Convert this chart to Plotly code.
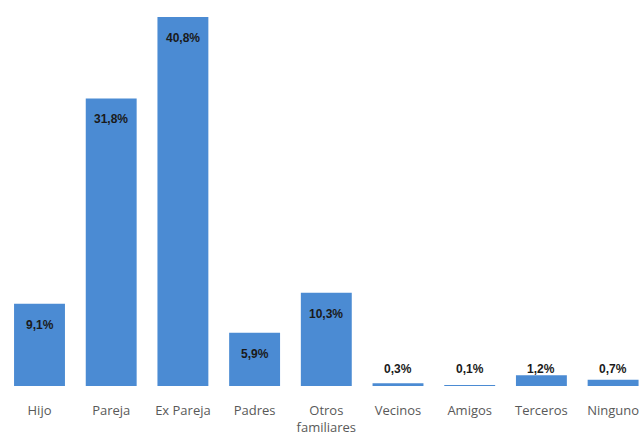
import plotly.graph_objects as go

categories = ["Hijo", "Pareja", "Ex Pareja", "Padres", "Otros<br>familiares",
              "Vecinos", "Amigos", "Terceros", "Ninguno"]
values = [9.1, 31.8, 40.8, 5.9, 10.3, 0.3, 0.1, 1.2, 0.7]
labels = ["9,1%", "31,8%", "40,8%", "5,9%", "10,3%", "0,3%", "0,1%", "1,2%", "0,7%"]

fig = go.Figure()
fig.add_trace(go.Bar(
    x=list(range(len(categories))), y=values,
    marker=dict(color="#4b8bd3", line=dict(width=0)),
    hoverinfo="skip",
))

for i, (v, t) in enumerate(zip(values, labels)):
    if v >= 3:
        fig.add_annotation(x=i, y=v, text="<b>" + t + "</b>", showarrow=False, yanchor="middle",
                           yshift=-21, font=dict(family="Liberation Sans", size=12, color="#1a1a1a"))
    else:
        fig.add_annotation(x=i, y=0, text="<b>" + t + "</b>", showarrow=False, yanchor="middle",
                           yshift=17, font=dict(family="Liberation Sans", size=12, color="#1a1a1a"))

fig.update_layout(
    width=642, height=435,
    margin=dict(l=0, r=0, t=0, b=49),
    paper_bgcolor="white", plot_bgcolor="white",
    bargap=0.29, showlegend=False,
    font=dict(family="Liberation Sans"),
)

fig.update_xaxes(range=[-0.551, 8.403], tickmode="array",
                 tickvals=list(range(len(categories))), ticktext=categories,
                 showgrid=False, zeroline=False, showline=False, ticks="",
                 tickfont=dict(family="Open Sans", size=13, color="#595959"),
                 ticklabelstandoff=15)
fig.update_yaxes(range=[0, 42.68], visible=False, showgrid=False, zeroline=False)

fig.write_html("out.html", config={"displayModeBar": False},
               post_script="document.body.style.margin='0';")
